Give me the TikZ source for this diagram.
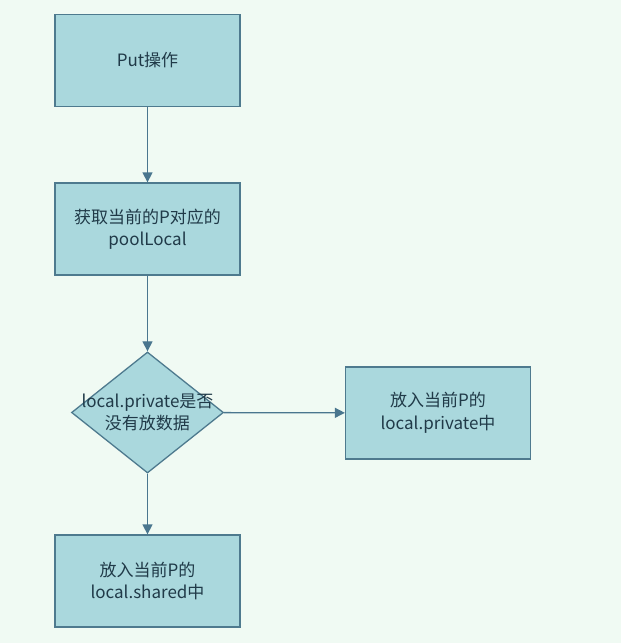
\documentclass[tikz,border=0pt]{standalone}
\usepackage{fontspec}
\setmainfont{Noto Sans CJK SC}
\usetikzlibrary{arrows.meta,positioning,shapes.geometric}
\definecolor{bgcol}{RGB}{240,250,243}
\definecolor{boxfill}{RGB}{170,216,221}
\definecolor{boxline}{RGB}{78,122,142}
\definecolor{txtcol}{RGB}{32,58,72}
\definecolor{arrcol}{RGB}{74,118,142}

\begin{document}
\begin{tikzpicture}[x=1pt,y=1pt,>={Triangle[length=10pt,width=10pt]},
    font=\fontsize{17}{22.5}\selectfont,
    stepbox/.style={draw=boxline,fill=boxfill,line width=1.3pt,
      minimum width=185pt,minimum height=92pt,align=center,text=txtcol},
    decision/.style={diamond,draw=boxline,fill=boxfill,line width=1.3pt,
      minimum width=152pt,minimum height=121pt,inner sep=0pt},
    flow/.style={->,draw=arrcol,line width=1.3pt}]
  \fill[bgcol] (0,0) rectangle (621,-643);
  \useasboundingbox (0,0) rectangle (621,-643);
  \node[stepbox] (put) at (147.5,-60.5) {Put操作};
  \node[stepbox] (getlocal) at (147.5,-229) {获取当前的P对应的\\poolLocal};
  \node[decision] (check) at (147.5,-412.5) {};
  \node[align=center,text=txtcol] (checktxt) at (check) {local.private是否\\没有放数据};
  \node[stepbox] (private) at (438,-413) {放入当前P的\\local.private中};
  \node[stepbox] (shared) at (147.5,-581) {放入当前P的\\local.shared中};
  \draw[flow] (put) -- (getlocal);
  \draw[flow] (getlocal) -- (check);
  \draw[flow] (check) -- (shared);
  \draw[flow] (check) -- (private);
\end{tikzpicture}
\end{document}
